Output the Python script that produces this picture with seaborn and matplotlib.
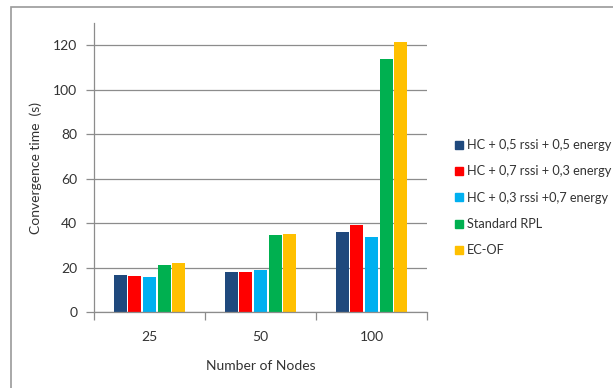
import matplotlib
matplotlib.use("Agg")
import matplotlib.pyplot as plt
from matplotlib.patches import Rectangle
from matplotlib.lines import Line2D
import seaborn as sns
import pandas as pd

nodes = ["25", "50", "100"]
series = [
    "HC + 0,5 rssi + 0,5 energy",
    "HC + 0,7 rssi + 0,3 energy",
    "HC + 0,3 rssi +0,7 energy",
    "Standard RPL",
    "EC-OF",
]
hc_55 = [16.7, 17.8, 35.8]
hc_73 = [16.3, 17.9, 39.2]
hc_37 = [15.7, 18.9, 33.8]
std_rpl = [21.0, 34.5, 113.8]
ec_of = [22.0, 35.3, 121.6]
colors = ["#1F497D", "#FF0000", "#00B0F0", "#00B050", "#FFC000"]

values = [hc_55, hc_73, hc_37, std_rpl, ec_of]
df = pd.DataFrame(
    [(n, s, v) for s, vals in zip(series, values) for n, v in zip(nodes, vals)],
    columns=["nodes", "series", "time"],
)

sns.set_theme(style="white")
plt.rcParams["font.family"] = ["Lato", "DejaVu Sans"]

fig = plt.figure(figsize=(6.13, 3.88), dpi=100)
ax = fig.add_axes([94 / 613, 1 - 312 / 388, (427 - 94) / 613, (312 - 23) / 388])

sns.barplot(
    data=df, x="nodes", y="time", hue="series", order=nodes, hue_order=series,
    palette=colors, width=0.66, gap=0.12, saturation=1, legend=False, ax=ax,
    edgecolor="none",
)

ax.set_ylim(0, 130)
ax.set_xlim(-0.5, 2.5)
ax.set_yticks(range(0, 121, 20))
ax.yaxis.grid(True, color="#8C8C8C", linewidth=0.9)
ax.set_axisbelow(True)
for side in ("top", "right"):
    ax.spines[side].set_visible(False)
for side in ("left", "bottom"):
    ax.spines[side].set_color("#8C8C8C")
    ax.spines[side].set_linewidth(0.9)

# Category boundaries carry the x tick marks; labels sit at the centres
ax.set_xticks([-0.5, 0.5, 1.5, 2.5], minor=False)
ax.set_xticklabels([])
ax.set_xticks([0, 1, 2], minor=True)
ax.set_xticklabels(nodes, minor=True)
ax.tick_params(axis="x", which="major", length=6, width=0.9, color="#8C8C8C", direction="out", bottom=True)
ax.tick_params(axis="x", which="minor", length=0, pad=14, labelsize=10, labelcolor="#333333")
ax.tick_params(axis="y", length=6, width=0.9, color="#8C8C8C", direction="out", left=True,
               labelsize=10, labelcolor="#333333", pad=6)

ax.set_xlabel("Number of Nodes", fontsize=10, color="#333333", labelpad=12)
ax.set_ylabel("Convergence time  (s)", fontsize=10, color="#333333", labelpad=8)

handles = [Line2D([0], [0], marker="s", linestyle="none", markersize=6,
                  markerfacecolor=c, markeredgecolor=c) for c in colors]
fig.legend(handles, series, loc="upper left", bbox_to_anchor=(449 / 613, 1 - 134 / 388),
           frameon=False, fontsize=9.2, labelspacing=1.12, handletextpad=0.3,
           handlelength=0.7, labelcolor="#333333", borderaxespad=0)

# Chart-area border
fig.add_artist(Rectangle((11 / 613, -0.05), 1.2, 1 - 7 / 388 + 0.05,
                         transform=fig.transFigure, fill=False,
                         edgecolor="#9A9A9A", linewidth=1.2))

fig.savefig("out.png", dpi=100)
